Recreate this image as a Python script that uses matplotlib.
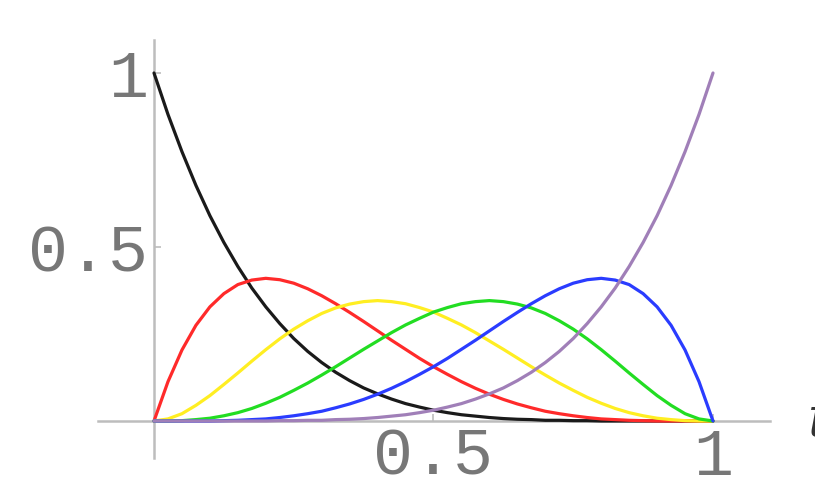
import matplotlib
matplotlib.use("Agg")
import matplotlib.pyplot as plt

# sample positions along the horizontal axis
t = [0.000, 0.025, 0.050, 0.075, 0.100, 0.125, 0.150, 0.175, 0.200, 0.225,
     0.250, 0.275, 0.300, 0.325, 0.350, 0.375, 0.400, 0.425, 0.450, 0.475,
     0.500, 0.525, 0.550, 0.575, 0.600, 0.625, 0.650, 0.675, 0.700, 0.725,
     0.750, 0.775, 0.800, 0.825, 0.850, 0.875, 0.900, 0.925, 0.950, 0.975, 1.000]

# curve values
black = [1.000, 0.881, 0.774, 0.677, 0.590, 0.513, 0.444, 0.382, 0.328, 0.280,
         0.237, 0.200, 0.168, 0.140, 0.116, 0.095, 0.078, 0.063, 0.050, 0.040,
         0.031, 0.024, 0.018, 0.014, 0.010, 0.007, 0.005, 0.004, 0.002, 0.002,
         0.001, 0.001, 0.000, 0.000, 0.000, 0.000, 0.000, 0.000, 0.000, 0.000, 0.000]
red = [0.000, 0.113, 0.204, 0.275, 0.328, 0.366, 0.392, 0.405, 0.410, 0.406,
       0.396, 0.380, 0.360, 0.337, 0.312, 0.286, 0.259, 0.232, 0.206, 0.180,
       0.156, 0.134, 0.113, 0.094, 0.077, 0.062, 0.049, 0.038, 0.028, 0.021,
       0.015, 0.010, 0.006, 0.004, 0.002, 0.001, 0.000, 0.000, 0.000, 0.000, 0.000]
yellow = [0.000, 0.006, 0.021, 0.045, 0.073, 0.105, 0.138, 0.172, 0.205, 0.236,
          0.264, 0.288, 0.309, 0.325, 0.336, 0.343, 0.346, 0.343, 0.337, 0.326,
          0.313, 0.295, 0.276, 0.254, 0.230, 0.206, 0.181, 0.156, 0.132, 0.109,
          0.088, 0.068, 0.051, 0.036, 0.024, 0.015, 0.008, 0.004, 0.001, 0.000, 0.000]
green = [0.000, 0.000, 0.001, 0.004, 0.008, 0.015, 0.024, 0.036, 0.051, 0.068,
         0.088, 0.109, 0.132, 0.156, 0.181, 0.206, 0.230, 0.254, 0.276, 0.295,
         0.313, 0.326, 0.337, 0.343, 0.346, 0.343, 0.336, 0.325, 0.309, 0.288,
         0.264, 0.236, 0.205, 0.172, 0.138, 0.105, 0.073, 0.045, 0.021, 0.006, 0.000]
blue = [0.000, 0.000, 0.000, 0.000, 0.000, 0.001, 0.002, 0.004, 0.006, 0.010,
        0.015, 0.021, 0.028, 0.038, 0.049, 0.062, 0.077, 0.094, 0.113, 0.134,
        0.156, 0.180, 0.206, 0.232, 0.259, 0.286, 0.312, 0.337, 0.360, 0.380,
        0.396, 0.406, 0.410, 0.405, 0.392, 0.366, 0.328, 0.275, 0.204, 0.113, 0.000]
purple = [0.000, 0.000, 0.000, 0.000, 0.000, 0.000, 0.000, 0.000, 0.000, 0.001,
          0.001, 0.002, 0.002, 0.004, 0.005, 0.007, 0.010, 0.014, 0.018, 0.024,
          0.031, 0.040, 0.050, 0.063, 0.078, 0.095, 0.116, 0.140, 0.168, 0.200,
          0.237, 0.280, 0.328, 0.382, 0.444, 0.513, 0.590, 0.677, 0.774, 0.881, 1.000]

series = [black, red, yellow, green, blue, purple]
colors = ["#1a1a1a", "#ff2a2a", "#ffee22", "#22dd22", "#2a3cff", "#a07fb8"]

xticks = [0.5, 1]
xticklabels = ["0.5", "1"]
yticks = [0.5, 1]
yticklabels = ["0.5", "1"]

fig = plt.figure(figsize=(8.15, 4.79), dpi=100)
ax = fig.add_axes([0, 0, 1, 1])
ax.set_xlim(-154 / 559, (815 - 154) / 559)
ax.set_ylim(-58 / 348, 421 / 348)

for ys, c in zip(series, colors):
    ax.plot(t, ys, color=c, lw=2.3, solid_capstyle="round",
            solid_joinstyle="round", zorder=3)

axis_col = "#bdbdbd"
for side in ["top", "right"]:
    ax.spines[side].set_visible(False)
ax.spines["left"].set_position(("data", 0))
ax.spines["bottom"].set_position(("data", 0))
ax.spines["left"].set_bounds(-0.106, 1.095)
ax.spines["bottom"].set_bounds(-0.10, 1.102)
for side in ["left", "bottom"]:
    ax.spines[side].set_color(axis_col)
    ax.spines[side].set_linewidth(1.8)

label_font = dict(family="Liberation Mono", size=48, color="#777777")
ax.set_xticks(xticks)
ax.set_xticklabels(xticklabels, **label_font)
ax.set_yticks(yticks)
ax.set_yticklabels(yticklabels, **label_font)
ax.tick_params(axis="both", direction="in", length=5, width=1.2, color=axis_col)
ax.tick_params(axis="x", pad=4)
ax.tick_params(axis="y", pad=4)

ax.text(1.17, 0.0, "t", fontsize=40, style="italic", color="#333333",
        family="DejaVu Serif", ha="left", va="center")

fig.savefig("out.png", dpi=100)
